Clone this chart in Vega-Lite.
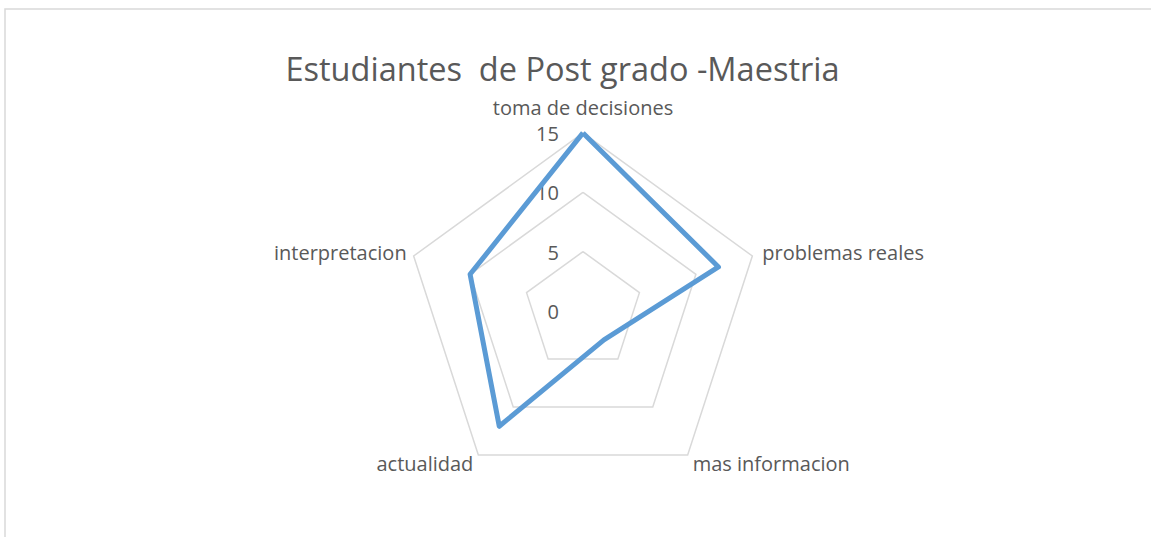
{
  "$schema": "https://vega.github.io/schema/vega-lite/v6.json",
  "autosize": {"type": "fit", "contains": "padding"},
  "width": 1151,
  "height": 537,
  "padding": {"left": 5, "top": 9, "right": -5, "bottom": -5},
  "background": "white",
  "config": {"view": {"stroke": "#d9d9d9", "strokeWidth": 1.5}, "font": "Open Sans"},
  "title": {"text": "Estudiantes\u00a0 de Post grado -Maestria", "anchor": "middle", "offset": -78, "fontSize": 32.5, "fontWeight": "normal", "color": "#595959", "font": "Open Sans", "dx": -18},
  "datasets": {
    "series": [
      {"cat": "toma de decisiones", "i": 0, "v": 15},
      {"cat": "problemas reales", "i": 1, "v": 12},
      {"cat": "mas informacion", "i": 2, "v": 3},
      {"cat": "actualidad", "i": 3, "v": 12},
      {"cat": "interpretacion", "i": 4, "v": 10},
      {"cat": "toma de decisiones", "i": 5, "v": 15}
    ],
    "rings": [
      {"ring": 5, "i": 0}, {"ring": 5, "i": 1}, {"ring": 5, "i": 2}, {"ring": 5, "i": 3}, {"ring": 5, "i": 4}, {"ring": 5, "i": 5},
      {"ring": 10, "i": 0}, {"ring": 10, "i": 1}, {"ring": 10, "i": 2}, {"ring": 10, "i": 3}, {"ring": 10, "i": 4}, {"ring": 10, "i": 5},
      {"ring": 15, "i": 0}, {"ring": 15, "i": 1}, {"ring": 15, "i": 2}, {"ring": 15, "i": 3}, {"ring": 15, "i": 4}, {"ring": 15, "i": 5}
    ],
    "ticks": [{"t": 0}, {"t": 5}, {"t": 10}, {"t": 15}]
  },
  "layer": [
    {
      "data": {"name": "rings"},
      "transform": [
        {"calculate": "datum.ring * sin(datum.i * 2 * PI / 5)", "as": "px"},
        {"calculate": "datum.ring * cos(datum.i * 2 * PI / 5)", "as": "py"}
      ],
      "mark": {"type": "line", "color": "#d9d9d9", "strokeWidth": 1.5},
      "encoding": {
        "x": {"field": "px", "type": "quantitative", "scale": {"domain": [-48.69, 48.27], "nice": false, "zero": false}, "axis": null},
        "y": {"field": "py", "type": "quantitative", "scale": {"domain": [-19.46, 25.44], "nice": false, "zero": false}, "axis": null},
        "detail": {"field": "ring"},
        "order": {"field": "i"}
      }
    },
    {
      "data": {"name": "ticks"},
      "transform": [{"calculate": "0", "as": "px"}],
      "mark": {"type": "text", "align": "right", "baseline": "middle", "dx": -24, "dy": 2, "fontSize": 20, "color": "#595959"},
      "encoding": {
        "x": {"field": "px", "type": "quantitative"},
        "y": {"field": "t", "type": "quantitative"},
        "text": {"field": "t"}
      }
    },
    {
      "data": {"name": "series"},
      "transform": [
        {"calculate": "datum.v * sin(datum.i * 2 * PI / 5)", "as": "px"},
        {"calculate": "datum.v * cos(datum.i * 2 * PI / 5)", "as": "py"}
      ],
      "mark": {"type": "line", "color": "#5b9bd5", "strokeWidth": 5, "strokeJoin": "round"},
      "encoding": {
        "x": {"field": "px", "type": "quantitative"},
        "y": {"field": "py", "type": "quantitative"},
        "order": {"field": "i"}
      }
    },
    {
      "data": {"name": "series"},
      "transform": [
        {"filter": "datum.i == 0"},
        {"calculate": "15 * sin(datum.i * 2 * PI / 5)", "as": "px"},
        {"calculate": "15 * cos(datum.i * 2 * PI / 5)", "as": "py"}
      ],
      "mark": {"type": "text", "align": "center", "baseline": "middle", "dy": -24, "fontSize": 20, "color": "#595959"},
      "encoding": {"x": {"field": "px", "type": "quantitative"}, "y": {"field": "py", "type": "quantitative"}, "text": {"field": "cat"}}
    },
    {
      "data": {"name": "series"},
      "transform": [
        {"filter": "datum.i == 1"},
        {"calculate": "15 * sin(datum.i * 2 * PI / 5)", "as": "px"},
        {"calculate": "15 * cos(datum.i * 2 * PI / 5)", "as": "py"}
      ],
      "mark": {"type": "text", "align": "left", "baseline": "middle", "dx": 10, "dy": -2, "fontSize": 20, "color": "#595959"},
      "encoding": {"x": {"field": "px", "type": "quantitative"}, "y": {"field": "py", "type": "quantitative"}, "text": {"field": "cat"}}
    },
    {
      "data": {"name": "series"},
      "transform": [
        {"filter": "datum.i == 2"},
        {"calculate": "15 * sin(datum.i * 2 * PI / 5)", "as": "px"},
        {"calculate": "15 * cos(datum.i * 2 * PI / 5)", "as": "py"}
      ],
      "mark": {"type": "text", "align": "left", "baseline": "middle", "dx": 5, "dy": 10, "fontSize": 20, "color": "#595959"},
      "encoding": {"x": {"field": "px", "type": "quantitative"}, "y": {"field": "py", "type": "quantitative"}, "text": {"field": "cat"}}
    },
    {
      "data": {"name": "series"},
      "transform": [
        {"filter": "datum.i == 3"},
        {"calculate": "15 * sin(datum.i * 2 * PI / 5)", "as": "px"},
        {"calculate": "15 * cos(datum.i * 2 * PI / 5)", "as": "py"}
      ],
      "mark": {"type": "text", "align": "right", "baseline": "middle", "dx": -5, "dy": 10, "fontSize": 20, "color": "#595959"},
      "encoding": {"x": {"field": "px", "type": "quantitative"}, "y": {"field": "py", "type": "quantitative"}, "text": {"field": "cat"}}
    },
    {
      "data": {"name": "series"},
      "transform": [
        {"filter": "datum.i == 4"},
        {"calculate": "15 * sin(datum.i * 2 * PI / 5)", "as": "px"},
        {"calculate": "15 * cos(datum.i * 2 * PI / 5)", "as": "py"}
      ],
      "mark": {"type": "text", "align": "right", "baseline": "middle", "dx": -7, "dy": -2, "fontSize": 20, "color": "#595959"},
      "encoding": {"x": {"field": "px", "type": "quantitative"}, "y": {"field": "py", "type": "quantitative"}, "text": {"field": "cat"}}
    }
  ]
}
